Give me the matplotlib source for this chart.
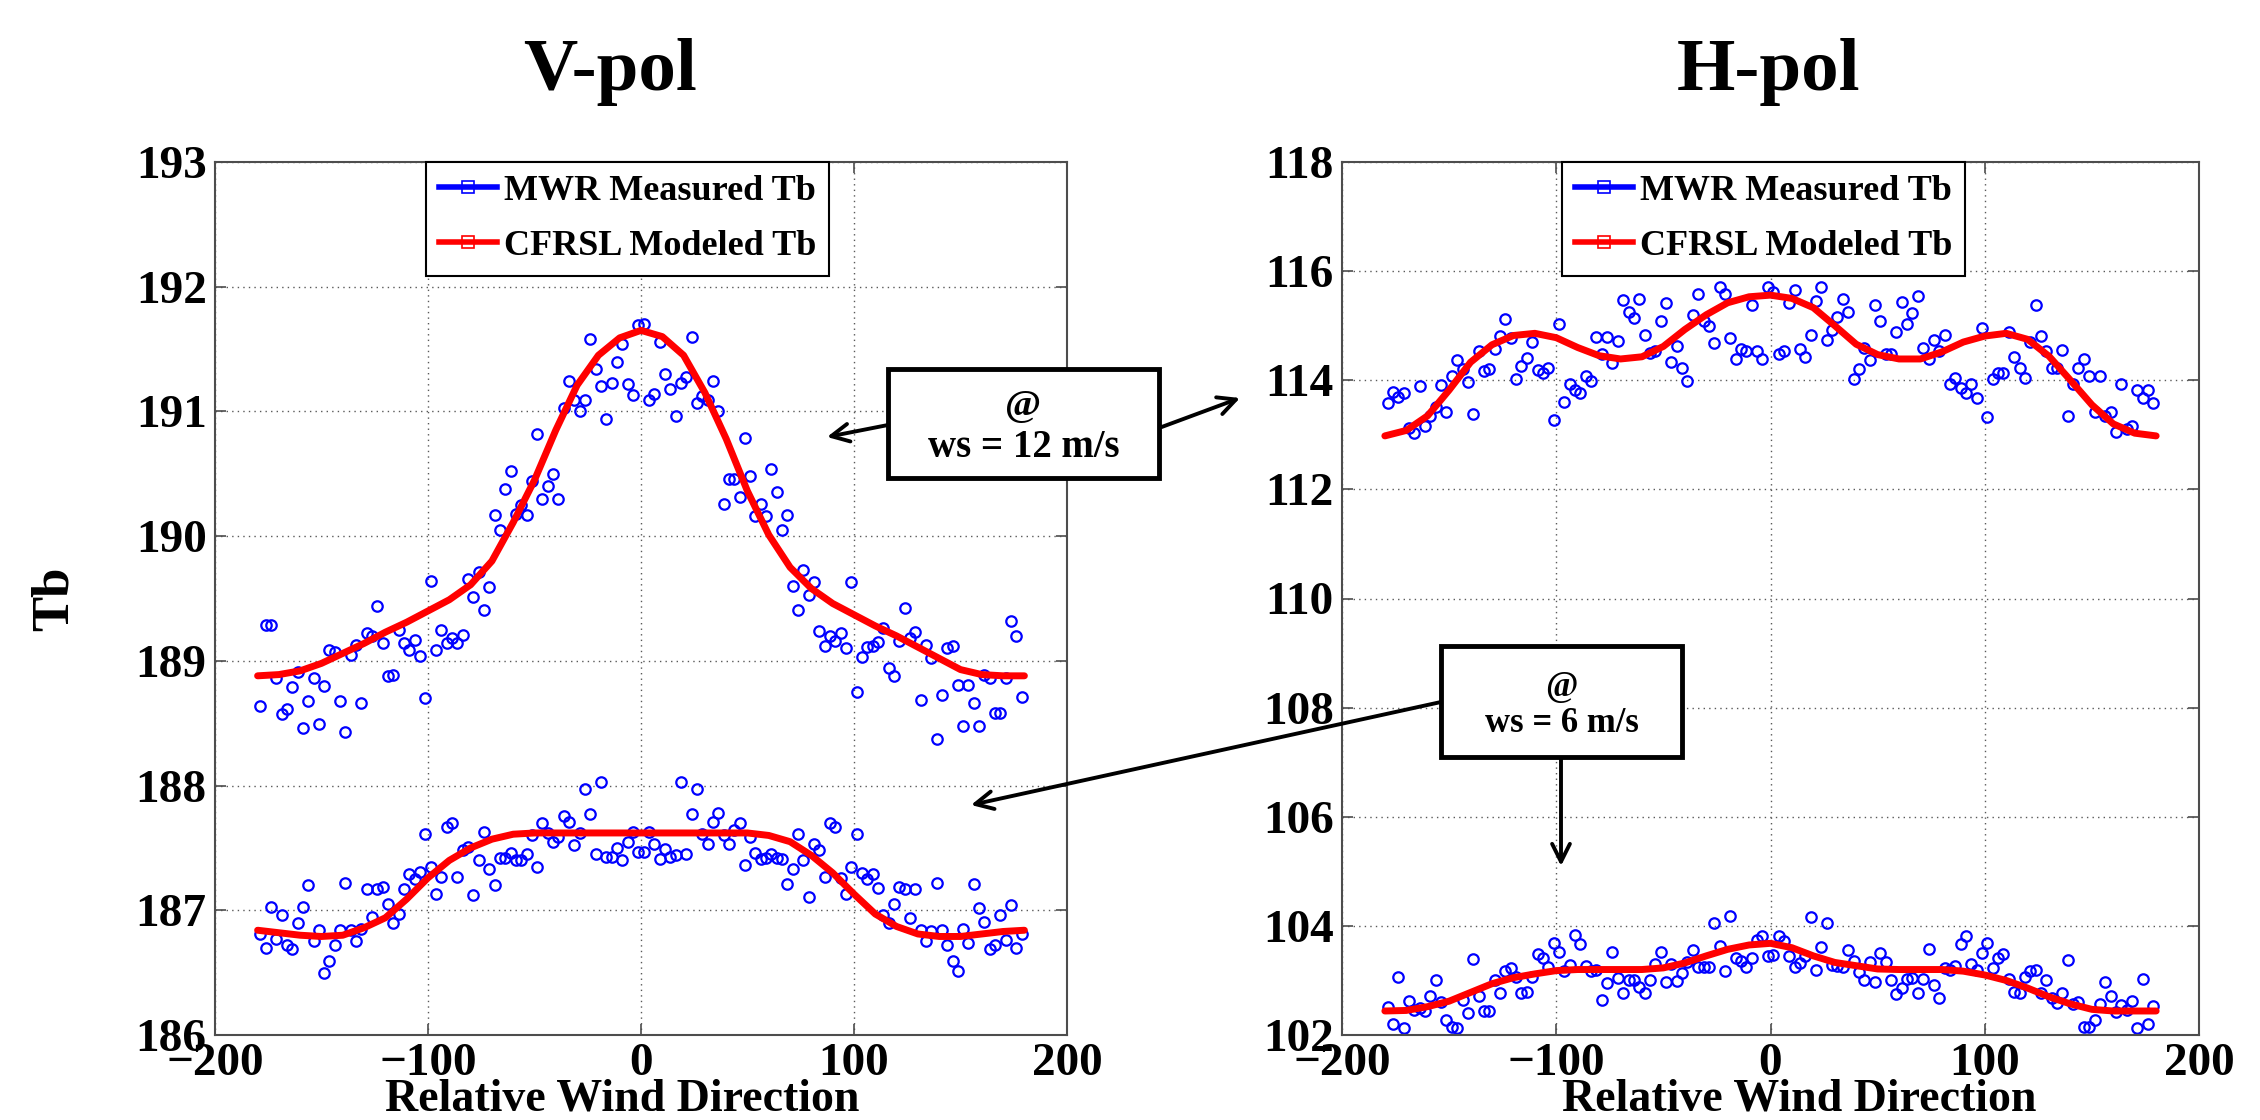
import numpy as np
import matplotlib
matplotlib.use("Agg")
import matplotlib.pyplot as plt
from matplotlib.lines import Line2D
from matplotlib.patches import Rectangle

plt.rcParams["font.family"] = ["Liberation Serif", "DejaVu Serif"]
plt.rcParams["font.weight"] = "bold"

# relative wind direction of the measured bins and of the model curves
meas_dir = np.arange(-178.75, 180, 2.5)
model_dir = np.arange(-180, 181, 10)

# V-pol, ws = 12 m/s
v12_meas = [
    188.64, 189.29, 189.29, 188.86, 188.57, 188.61, 188.79, 188.91, 188.46, 188.68,
    188.86, 188.49, 188.80, 189.09, 189.07, 188.68, 188.43, 189.05, 189.13, 188.66,
    189.22, 189.20, 189.44, 189.14, 188.88, 188.89, 189.25, 189.14, 189.09, 189.17,
    189.04, 188.70, 189.64, 189.09, 189.25, 189.14, 189.18, 189.14, 189.21, 189.66,
    189.51, 189.71, 189.41, 189.59, 190.17, 190.05, 190.38, 190.52, 190.18, 190.25,
    190.17, 190.44, 190.82, 190.30, 190.40, 190.50, 190.30, 191.03, 191.24, 191.09,
    191.00, 191.09, 191.58, 191.34, 191.20, 190.94, 191.23, 191.40, 191.54, 191.22,
    191.13, 191.69, 191.70, 191.09, 191.14, 191.56, 191.30, 191.18, 190.96, 191.23,
    191.28, 191.60, 191.07, 191.12, 191.09, 191.24, 191.00, 190.26, 190.46, 190.46,
    190.31, 190.79, 190.48, 190.16, 190.26, 190.16, 190.54, 190.35, 190.05, 190.17,
    189.60, 189.41, 189.73, 189.53, 189.63, 189.24, 189.12, 189.20, 189.16, 189.22,
    189.10, 189.63, 188.75, 189.03, 189.11, 189.12, 189.15, 189.26, 188.94, 188.88,
    189.16, 189.42, 189.18, 189.23, 188.69, 189.13, 189.02, 188.37, 188.73, 189.10,
    189.12, 188.81, 188.48, 188.81, 188.66, 188.48, 188.89, 188.86, 188.58, 188.58,
    188.86, 189.32, 189.20, 188.71,
]
v12_model = [
    188.88, 188.89, 188.92, 188.98, 189.06, 189.14, 189.23, 189.31, 189.40, 189.49,
    189.61, 189.80, 190.11, 190.45, 190.85, 191.21, 191.45, 191.59, 191.65, 191.60,
    191.45, 191.15, 190.78, 190.36, 190.01, 189.75, 189.58, 189.46, 189.37, 189.28,
    189.20, 189.11, 189.02, 188.93, 188.89, 188.88, 188.88,
]

# V-pol, ws = 6 m/s
v6_meas = [
    186.81, 186.70, 187.03, 186.77, 186.96, 186.72, 186.69, 186.90, 187.03, 187.20,
    186.75, 186.84, 186.50, 186.59, 186.72, 186.84, 187.22, 186.84, 186.75, 186.85,
    187.17, 186.95, 187.17, 187.19, 187.05, 186.90, 186.97, 187.17, 187.29, 187.25,
    187.31, 187.61, 187.35, 187.13, 187.27, 187.67, 187.70, 187.27, 187.48, 187.51,
    187.12, 187.40, 187.63, 187.33, 187.20, 187.42, 187.42, 187.46, 187.40, 187.40,
    187.45, 187.60, 187.35, 187.70, 187.62, 187.55, 187.59, 187.76, 187.71, 187.52,
    187.62, 187.97, 187.77, 187.45, 188.03, 187.43, 187.43, 187.50, 187.40, 187.55,
    187.63, 187.47, 187.47, 187.63, 187.53, 187.41, 187.49, 187.43, 187.44, 188.03,
    187.45, 187.77, 187.97, 187.61, 187.53, 187.71, 187.78, 187.60, 187.53, 187.64,
    187.70, 187.36, 187.59, 187.46, 187.41, 187.42, 187.45, 187.42, 187.41, 187.21,
    187.33, 187.61, 187.40, 187.11, 187.53, 187.48, 187.27, 187.70, 187.67, 187.26,
    187.13, 187.35, 187.61, 187.30, 187.25, 187.29, 187.18, 186.96, 186.90, 187.05,
    187.19, 187.17, 186.94, 187.17, 186.84, 186.75, 186.83, 187.22, 186.84, 186.72,
    186.59, 186.51, 186.85, 186.74, 187.21, 187.02, 186.91, 186.69, 186.72, 186.96,
    186.76, 187.04, 186.70, 186.81,
]
v6_model = [
    186.84, 186.82, 186.80, 186.79, 186.80, 186.86, 186.94, 187.09, 187.26, 187.40,
    187.50, 187.57, 187.61, 187.62, 187.62, 187.62, 187.62, 187.62, 187.62, 187.62,
    187.62, 187.62, 187.62, 187.62, 187.60, 187.55, 187.44, 187.30, 187.13, 186.97,
    186.87, 186.81, 186.79, 186.79, 186.81, 186.83, 186.84,
]

# H-pol, ws = 12 m/s
h12_meas = [
    113.59, 113.79, 113.70, 113.77, 113.13, 113.04, 113.90, 113.16, 113.34, 113.51,
    113.91, 113.42, 114.08, 114.38, 114.20, 113.96, 113.39, 114.53, 114.17, 114.20,
    114.57, 114.81, 115.12, 114.78, 114.03, 114.26, 114.40, 114.70, 114.18, 114.14,
    114.23, 113.28, 115.03, 113.61, 113.93, 113.83, 113.77, 114.08, 113.99, 114.80,
    114.48, 114.80, 114.31, 114.72, 115.47, 115.26, 115.14, 115.49, 114.83, 114.50,
    114.54, 115.08, 115.41, 114.34, 114.63, 114.22, 113.98, 115.20, 115.58, 115.09,
    115.00, 114.68, 115.70, 115.58, 114.78, 114.39, 114.57, 114.53, 115.38, 114.53,
    114.39, 115.70, 115.61, 114.49, 114.54, 115.41, 115.65, 114.57, 114.43, 114.83,
    115.45, 115.70, 114.74, 114.92, 115.16, 115.49, 115.26, 114.02, 114.20, 114.60,
    114.37, 115.38, 115.08, 114.49, 114.49, 114.89, 115.44, 115.04, 115.24, 115.55,
    114.59, 114.39, 114.73, 114.53, 114.83, 113.94, 114.04, 113.85, 113.77, 113.93,
    113.67, 114.96, 113.33, 114.02, 114.14, 114.14, 114.88, 114.43, 114.22, 114.04,
    114.71, 115.38, 114.81, 114.54, 114.22, 114.22, 114.55, 113.34, 113.94, 114.23,
    114.39, 114.08, 113.42, 114.08, 113.34, 113.41, 113.06, 113.94, 113.10, 113.16,
    113.82, 113.67, 113.82, 113.59,
]
h12_model = [
    112.98, 113.08, 113.35, 113.82, 114.33, 114.65, 114.82, 114.86, 114.78, 114.60,
    114.45, 114.39, 114.43, 114.62, 114.93, 115.20, 115.42, 115.53, 115.56, 115.50,
    115.33, 115.00, 114.66, 114.47, 114.39, 114.39, 114.52, 114.70, 114.81, 114.86,
    114.75, 114.44, 114.00, 113.55, 113.20, 113.03, 112.98,
]

# H-pol, ws = 6 m/s
h6_meas = [
    102.51, 102.21, 103.07, 102.12, 102.62, 102.46, 102.49, 102.44, 102.72, 103.01,
    102.60, 102.27, 102.15, 102.12, 102.64, 102.41, 103.40, 102.72, 102.44, 102.44,
    103.01, 102.77, 103.18, 103.22, 103.07, 102.77, 102.79, 103.06, 103.48, 103.42,
    103.24, 103.68, 103.53, 103.18, 103.29, 103.84, 103.66, 103.27, 103.18, 103.19,
    102.64, 102.96, 103.53, 103.05, 102.77, 103.01, 103.01, 102.88, 102.77, 103.01,
    103.31, 103.53, 102.98, 103.31, 102.99, 103.14, 103.33, 103.55, 103.24, 103.25,
    103.25, 104.06, 103.63, 103.18, 104.18, 103.42, 103.35, 103.24, 103.42, 103.74,
    103.82, 103.45, 103.46, 103.81, 103.72, 103.44, 103.24, 103.32, 103.44, 104.16,
    103.19, 103.61, 104.05, 103.29, 103.27, 103.24, 103.55, 103.35, 103.16, 103.01,
    103.33, 102.98, 103.51, 103.33, 103.01, 102.75, 102.86, 103.03, 103.05, 102.77,
    103.03, 103.58, 102.92, 102.67, 103.22, 103.19, 103.27, 103.66, 103.82, 103.31,
    103.20, 103.50, 103.69, 103.22, 103.42, 103.48, 103.03, 102.79, 102.77, 103.07,
    103.18, 103.19, 102.77, 103.01, 102.67, 102.59, 102.77, 103.37, 102.57, 102.60,
    102.14, 102.14, 102.28, 102.57, 102.98, 102.72, 102.42, 102.55, 102.46, 102.62,
    102.12, 103.03, 102.21, 102.53,
]
h6_model = [
    102.44, 102.45, 102.52, 102.62, 102.78, 102.94, 103.05, 103.12, 103.18, 103.20,
    103.20, 103.20, 103.20, 103.23, 103.32, 103.45, 103.57, 103.65, 103.68, 103.60,
    103.45, 103.33, 103.27, 103.21, 103.20, 103.20, 103.20, 103.17, 103.10, 103.00,
    102.86, 102.70, 102.57, 102.47, 102.44, 102.44, 102.44,
]

legend_labels = ["MWR Measured Tb", "CFRSL Modeled Tb"]

W, H = 2260, 1120
fig = plt.figure(figsize=(W / 100, H / 100), dpi=100)


def px_axes(left, top, right, bottom):
    return fig.add_axes([left / W, 1 - bottom / H, (right - left) / W, (bottom - top) / H])


def style_axes(ax, ylim, yticks):
    ax.set_xlim(-200, 200)
    ax.set_xticks([-200, -100, 0, 100, 200])
    ax.set_ylim(*ylim)
    ax.set_yticks(yticks)
    ax.grid(True, linestyle=(0, (1, 3)), color="0.35", linewidth=1.0)
    ax.tick_params(direction="in", top=True, right=True, length=8, width=1.2,
                   labelsize=34, pad=6, color="0.3")
    for tl in ax.get_xticklabels() + ax.get_yticklabels():
        tl.set_fontweight("bold")
    for sp in ax.spines.values():
        sp.set_color("0.3")
        sp.set_linewidth(1.5)


def draw_panel(ax, meas_a, model_a, meas_b, model_b):
    for meas, model in [(meas_a, model_a), (meas_b, model_b)]:
        ax.plot(meas_dir, meas, linestyle="none", marker="o", markersize=7.5,
                markerfacecolor="none", markeredgecolor="#0000ff", markeredgewidth=1.6)
        ax.plot(model_dir, model, color="#ff0000", linewidth=5, solid_capstyle="round")


def add_legend(ax, x0):
    handles = [
        Line2D([], [], color="#0000ff", linewidth=4, marker="s", markersize=8,
               markerfacecolor="none", markeredgewidth=1.2),
        Line2D([], [], color="#ff0000", linewidth=4, marker="s", markersize=8,
               markerfacecolor="none", markeredgewidth=1.2),
    ]
    leg = ax.legend(handles, legend_labels, loc="upper left", bbox_to_anchor=(x0, 1.0),
                    prop={"weight": "bold", "size": 26}, frameon=True,
                    fancybox=False, edgecolor="black", framealpha=1, borderaxespad=0,
                    handlelength=1.6, handletextpad=0.2, labelspacing=0.6,
                    borderpad=0.35)
    leg.get_frame().set_linewidth(1.5)


def add_xlabel(ax, xfrac):
    ax.set_xlabel("Relative Wind Direction", fontsize=33, fontweight="bold",
                  va="baseline")
    ax.xaxis.set_label_coords(xfrac, -0.086)


# left panel: V-pol
ax1 = px_axes(215, 162, 1067, 1035)
draw_panel(ax1, v12_meas, v12_model, v6_meas, v6_model)
style_axes(ax1, (186, 193), np.arange(186, 194, 1))
add_legend(ax1, 0.248)
add_xlabel(ax1, 0.478)
ax1.set_ylabel("Tb", fontsize=38, fontweight="bold")
ax1.yaxis.set_label_coords(-0.16, 0.5)

# right panel: H-pol
ax2 = px_axes(1342, 162, 2199, 1035)
draw_panel(ax2, h12_meas, h12_model, h6_meas, h6_model)
style_axes(ax2, (102, 118), np.arange(102, 119, 2))
add_legend(ax2, 0.257)
add_xlabel(ax2, 0.533)

fig.text(610 / W, 1 - 90 / H, "V-pol", fontsize=54, fontweight="bold",
         ha="center", va="baseline")
fig.text(1769 / W, 1 - 90 / H, "H-pol", fontsize=54, fontweight="bold",
         ha="center", va="baseline")

# annotation overlay in figure pixels
ov = fig.add_axes([0, 0, 1, 1], zorder=10)
ov.set_xlim(0, W)
ov.set_ylim(H, 0)
ov.axis("off")
ov.patch.set_alpha(0)

arrow_kw = dict(arrowstyle="->", color="black", lw=2.8, mutation_scale=32,
                shrinkA=0, shrinkB=0)
ov.annotate("", xy=(827, 437), xytext=(888, 425), arrowprops=arrow_kw)
ov.annotate("", xy=(1240, 398), xytext=(1159, 428), arrowprops=arrow_kw)
ov.annotate("", xy=(971, 805), xytext=(1441, 702), arrowprops=arrow_kw)
ov.annotate("", xy=(1561, 866), xytext=(1561, 757), arrowprops=arrow_kw)

for (x0, y0, x1, y1, txt, fs) in [(888, 369, 1159, 478, "@\nws = 12 m/s", 28),
                                  (1441, 646, 1682, 757, "@\nws = 6 m/s", 25)]:
    ov.add_patch(Rectangle((x0, y0), x1 - x0, y1 - y0, facecolor="white",
                           edgecolor="black", linewidth=3.5, zorder=3))
    ov.text((x0 + x1) / 2, (y0 + y1) / 2 + 4, txt, fontsize=fs, fontweight="bold",
            ha="center", va="center", linespacing=1.1, zorder=4)

fig.savefig("out.png", dpi=100)
